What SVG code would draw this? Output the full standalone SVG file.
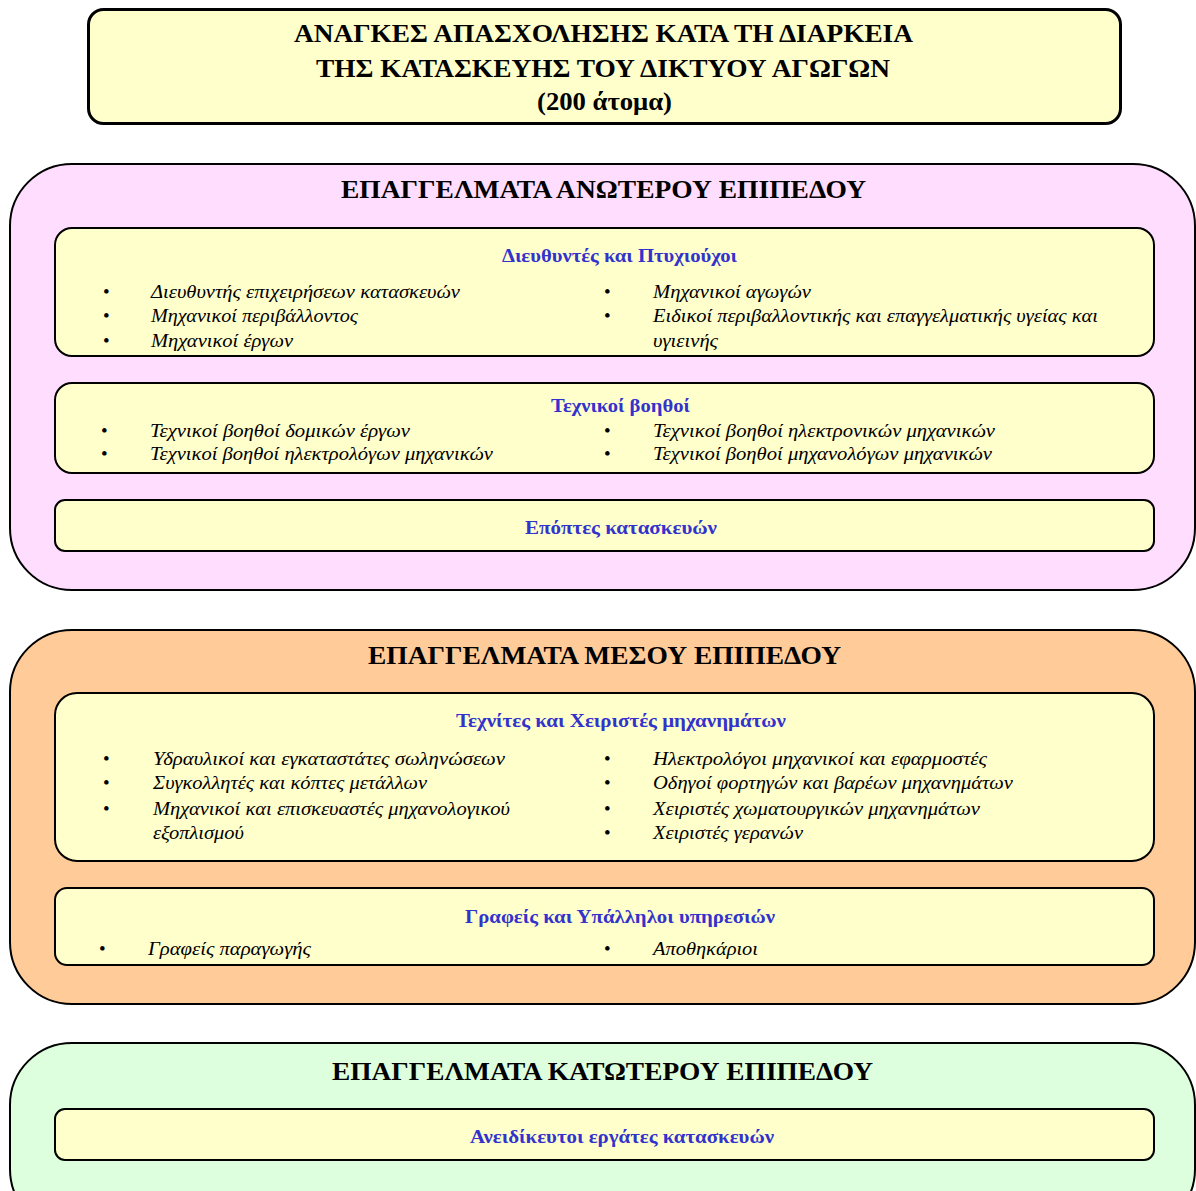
<svg xmlns="http://www.w3.org/2000/svg" width="1196" height="1191" viewBox="0 0 1196 1191">
<style>
.outer{stroke:#000;stroke-width:2}
.inner{fill:#FFFFCC;stroke:#000;stroke-width:2}
.title{font-family:"Liberation Serif","Times New Roman",serif;font-weight:bold;font-size:25px;fill:#000;text-anchor:middle}
.sec{font-family:"Liberation Serif","Times New Roman",serif;font-weight:bold;font-size:26px;fill:#000;text-anchor:middle}
.sub{font-family:"Liberation Serif",serif;font-weight:bold;font-size:18px;fill:#3333CC;text-anchor:middle}
.it{font-family:"Liberation Serif",serif;font-style:italic;font-size:19px;fill:#000}
.b{font-family:"Liberation Serif",serif;font-size:19px;fill:#000}
</style>
<rect width="1196" height="1191" fill="#fff"/>
<g id="title">
<rect x="88.5" y="9.5" width="1032" height="114" rx="15" fill="#FFFFCC" stroke="#000" stroke-width="3"/>
<text class="title" x="603.5" y="42" textLength="619" lengthAdjust="spacingAndGlyphs">ΑΝΑΓΚΕΣ ΑΠΑΣΧΟΛΗΣΗΣ ΚΑΤΑ ΤΗ ΔΙΑΡΚΕΙΑ</text>
<text class="title" x="603" y="77" textLength="574" lengthAdjust="spacingAndGlyphs">ΤΗΣ ΚΑΤΑΣΚΕΥΗΣ ΤΟΥ ΔΙΚΤΥΟΥ ΑΓΩΓΩΝ</text>
<text class="title" x="604.5" y="110" textLength="135" lengthAdjust="spacingAndGlyphs">(200 άτομα)</text>
</g>
<g id="upper">
<rect class="outer" x="10" y="164" width="1185" height="426" rx="62" fill="#FFDDFF"/>
<text class="sec" x="603.5" y="198" textLength="525" lengthAdjust="spacingAndGlyphs">ΕΠΑΓΓΕΛΜΑΤΑ ΑΝΩΤΕΡΟΥ ΕΠΙΠΕΔΟΥ</text>
<g id="directors">
<rect class="inner" x="55" y="228" width="1099" height="128" rx="17"/>
<text class="sub" x="619.5" y="262" textLength="235" lengthAdjust="spacingAndGlyphs">Διευθυντές και Πτυχιούχοι</text>
<text class="b" x="103" y="298">•</text><text class="it" x="151" y="298" textLength="309" lengthAdjust="spacingAndGlyphs">Διευθυντής επιχειρήσεων κατασκευών</text>
<text class="b" x="103" y="322">•</text><text class="it" x="151" y="322" textLength="207" lengthAdjust="spacingAndGlyphs">Μηχανικοί περιβάλλοντος</text>
<text class="b" x="103" y="347">•</text><text class="it" x="151" y="347" textLength="142" lengthAdjust="spacingAndGlyphs">Μηχανικοί έργων</text>
<text class="b" x="604" y="298">•</text><text class="it" x="653" y="298" textLength="158" lengthAdjust="spacingAndGlyphs">Μηχανικοί αγωγών</text>
<text class="b" x="604" y="322">•</text><text class="it" x="653" y="322" textLength="445" lengthAdjust="spacingAndGlyphs">Ειδικοί περιβαλλοντικής και επαγγελματικής υγείας και</text>
<text class="it" x="653" y="347" textLength="65" lengthAdjust="spacingAndGlyphs">υγιεινής</text>
</g>
<g id="technicians">
<rect class="inner" x="55" y="383" width="1099" height="90" rx="17"/>
<text class="sub" x="620.5" y="412" textLength="139" lengthAdjust="spacingAndGlyphs">Τεχνικοί βοηθοί</text>
<text class="b" x="101" y="437">•</text><text class="it" x="150" y="437" textLength="260" lengthAdjust="spacingAndGlyphs">Τεχνικοί βοηθοί δομικών έργων</text>
<text class="b" x="101" y="460">•</text><text class="it" x="150" y="460" textLength="343" lengthAdjust="spacingAndGlyphs">Τεχνικοί βοηθοί ηλεκτρολόγων μηχανικών</text>
<text class="b" x="604" y="437">•</text><text class="it" x="653" y="437" textLength="342" lengthAdjust="spacingAndGlyphs">Τεχνικοί βοηθοί ηλεκτρονικών μηχανικών</text>
<text class="b" x="604" y="460">•</text><text class="it" x="653" y="460" textLength="339" lengthAdjust="spacingAndGlyphs">Τεχνικοί βοηθοί μηχανολόγων μηχανικών</text>
</g>
<g id="supervisors">
<rect class="inner" x="55" y="500" width="1099" height="51" rx="10"/>
<text class="sub" x="621" y="534" textLength="192" lengthAdjust="spacingAndGlyphs">Επόπτες κατασκευών</text>
</g>
</g>
<g id="middle">
<rect class="outer" x="10" y="630" width="1185" height="374" rx="62" fill="#FFCC99"/>
<text class="sec" x="604.5" y="664" textLength="473" lengthAdjust="spacingAndGlyphs">ΕΠΑΓΓΕΛΜΑΤΑ ΜΕΣΟΥ ΕΠΙΠΕΔΟΥ</text>
<g id="craftsmen">
<rect class="inner" x="55" y="693" width="1099" height="168" rx="22"/>
<text class="sub" x="621" y="727" textLength="330" lengthAdjust="spacingAndGlyphs">Τεχνίτες και Χειριστές μηχανημάτων</text>
<text class="b" x="103" y="765">•</text><text class="it" x="153" y="765" textLength="352" lengthAdjust="spacingAndGlyphs">Υδραυλικοί και εγκαταστάτες σωληνώσεων</text>
<text class="b" x="103" y="789">•</text><text class="it" x="153" y="789" textLength="274" lengthAdjust="spacingAndGlyphs">Συγκολλητές και κόπτες μετάλλων</text>
<text class="b" x="103" y="815">•</text><text class="it" x="153" y="815" textLength="357" lengthAdjust="spacingAndGlyphs">Μηχανικοί και επισκευαστές μηχανολογικού</text>
<text class="it" x="153" y="839" textLength="91" lengthAdjust="spacingAndGlyphs">εξοπλισμού</text>
<text class="b" x="604" y="765">•</text><text class="it" x="653" y="765" textLength="334" lengthAdjust="spacingAndGlyphs">Ηλεκτρολόγοι μηχανικοί και εφαρμοστές</text>
<text class="b" x="604" y="789">•</text><text class="it" x="653" y="789" textLength="360" lengthAdjust="spacingAndGlyphs">Οδηγοί φορτηγών και βαρέων μηχανημάτων</text>
<text class="b" x="604" y="815">•</text><text class="it" x="653" y="815" textLength="327" lengthAdjust="spacingAndGlyphs">Χειριστές χωματουργικών μηχανημάτων</text>
<text class="b" x="604" y="839">•</text><text class="it" x="653" y="839" textLength="150" lengthAdjust="spacingAndGlyphs">Χειριστές γερανών</text>
</g>
<g id="clerks">
<rect class="inner" x="55" y="888" width="1099" height="77" rx="12"/>
<text class="sub" x="620" y="923" textLength="310" lengthAdjust="spacingAndGlyphs">Γραφείς και Υπάλληλοι υπηρεσιών</text>
<text class="b" x="99" y="955">•</text><text class="it" x="148" y="955" textLength="163" lengthAdjust="spacingAndGlyphs">Γραφείς παραγωγής</text>
<text class="b" x="604" y="955">•</text><text class="it" x="653" y="955" textLength="105" lengthAdjust="spacingAndGlyphs">Αποθηκάριοι</text>
</g>
</g>
<g id="lower">
<rect class="outer" x="10" y="1043" width="1185" height="188" rx="62" fill="#DDFFDD"/>
<text class="sec" x="602.5" y="1080" textLength="541" lengthAdjust="spacingAndGlyphs">ΕΠΑΓΓΕΛΜΑΤΑ ΚΑΤΩΤΕΡΟΥ ΕΠΙΠΕΔΟΥ</text>
<g id="unskilled">
<rect class="inner" x="55" y="1109" width="1099" height="51" rx="10"/>
<text class="sub" x="622" y="1143" textLength="304" lengthAdjust="spacingAndGlyphs">Ανειδίκευτοι εργάτες κατασκευών</text>
</g>
</g>
<g id="connectors"/>
</svg>
